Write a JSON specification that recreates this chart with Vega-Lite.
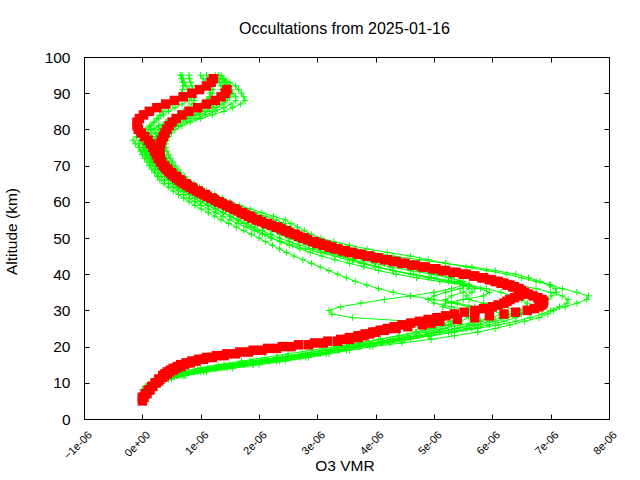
{
"$schema": "https://vega.github.io/schema/vega-lite/v6.json",
"width": 525, "height": 362,
"autosize": {"type": "none"},
"padding": {"left": 84, "top": 57, "right": 31, "bottom": 61},
"background": "white",
"title": {"text": "Occultations from 2025-01-16", "font": "Liberation Sans", "fontSize": 16, "fontWeight": "normal", "color": "black", "anchor": "middle", "baseline": "alphabetic", "offset": 0, "dx": -2},
"config": {
  "view": {"stroke": "black", "strokeWidth": 1},
  "axis": {"grid": false, "domain": false, "labelFont": "Liberation Sans", "labelColor": "black", "tickColor": "black", "tickWidth": 1, "titleFont": "Liberation Sans", "titleColor": "black", "titleFontWeight": "normal", "titleFontSize": 15.5, "labelOverlap": false, "labelBound": false, "labelFlush": false}
},
"datasets": {
"green": [
{"s":"G1","a":9,"v":0.1e-6},{"s":"G1","a":10,"v":0.2e-6},{"s":"G1","a":11,"v":0.35e-6},{"s":"G1","a":12,"v":0.6e-6},{"s":"G1","a":13,"v":0.95e-6},{"s":"G1","a":14,"v":1.4e-6},{"s":"G1","a":15,"v":1.9e-6},{"s":"G1","a":16,"v":2.35e-6},{"s":"G1","a":17,"v":2.8e-6},{"s":"G1","a":18,"v":3.15e-6},{"s":"G1","a":19,"v":3.5e-6},{"s":"G1","a":20,"v":3.95e-6},{"s":"G1","a":21,"v":4.45e-6},{"s":"G1","a":22,"v":4.95e-6},{"s":"G1","a":23,"v":5.35e-6},{"s":"G1","a":24,"v":5.75e-6},{"s":"G1","a":25,"v":6.05e-6},{"s":"G1","a":26,"v":6.3e-6},{"s":"G1","a":27,"v":6.55e-6},{"s":"G1","a":28,"v":6.8e-6},{"s":"G1","a":29,"v":6.95e-6},{"s":"G1","a":30,"v":7.05e-6},{"s":"G1","a":31,"v":7.25e-6},{"s":"G1","a":32,"v":7.45e-6},{"s":"G1","a":33,"v":7.62e-6},{"s":"G1","a":34,"v":7.65e-6},{"s":"G1","a":35,"v":7.45e-6},{"s":"G1","a":36,"v":7.2e-6},{"s":"G1","a":37,"v":7.0e-6},{"s":"G1","a":38,"v":6.75e-6},{"s":"G1","a":39,"v":6.5e-6},{"s":"G1","a":40,"v":6.25e-6},{"s":"G1","a":41,"v":5.9e-6},{"s":"G1","a":42,"v":5.55e-6},{"s":"G1","a":43,"v":5.2e-6},{"s":"G1","a":44,"v":4.9e-6},{"s":"G1","a":45,"v":4.6e-6},{"s":"G1","a":46,"v":4.2e-6},{"s":"G1","a":47,"v":3.85e-6},{"s":"G1","a":48,"v":3.55e-6},{"s":"G1","a":49,"v":3.28e-6},{"s":"G1","a":50,"v":3.05e-6},{"s":"G1","a":51,"v":2.9e-6},{"s":"G1","a":52,"v":2.78e-6},{"s":"G1","a":53,"v":2.66e-6},{"s":"G1","a":54,"v":2.55e-6},{"s":"G1","a":55,"v":2.45e-6},{"s":"G1","a":56,"v":2.25e-6},{"s":"G1","a":57,"v":2.05e-6},{"s":"G1","a":58,"v":1.85e-6},{"s":"G1","a":59,"v":1.67e-6},{"s":"G1","a":60,"v":1.5e-6},{"s":"G1","a":61,"v":1.37e-6},{"s":"G1","a":62,"v":1.24e-6},{"s":"G1","a":63,"v":1.1e-6},{"s":"G1","a":64,"v":0.98e-6},{"s":"G1","a":65,"v":0.88e-6},{"s":"G1","a":66,"v":0.78e-6},{"s":"G1","a":67,"v":0.72e-6},{"s":"G1","a":68,"v":0.66e-6},{"s":"G1","a":69,"v":0.61e-6},{"s":"G1","a":70,"v":0.56e-6},{"s":"G1","a":71,"v":0.52e-6},{"s":"G1","a":72,"v":0.48e-6},{"s":"G1","a":73,"v":0.45e-6},{"s":"G1","a":74,"v":0.42e-6},{"s":"G1","a":75,"v":0.4e-6},{"s":"G1","a":76,"v":0.4e-6},{"s":"G1","a":77,"v":0.42e-6},{"s":"G1","a":78,"v":0.45e-6},{"s":"G1","a":79,"v":0.5e-6},{"s":"G1","a":80,"v":0.56e-6},{"s":"G1","a":81,"v":0.68e-6},{"s":"G1","a":82,"v":0.82e-6},{"s":"G1","a":83,"v":1.0e-6},{"s":"G1","a":84,"v":1.2e-6},{"s":"G1","a":85,"v":1.4e-6},{"s":"G1","a":86,"v":1.55e-6},{"s":"G1","a":87,"v":1.68e-6},{"s":"G1","a":88,"v":1.76e-6},{"s":"G1","a":89,"v":1.74e-6},{"s":"G1","a":90,"v":1.7e-6},{"s":"G1","a":91,"v":1.65e-6},{"s":"G1","a":92,"v":1.6e-6},{"s":"G1","a":93,"v":1.5e-6},{"s":"G1","a":94,"v":1.4e-6},{"s":"G1","a":95,"v":1.3e-6},
{"s":"G2","a":8,"v":0.05e-6},{"s":"G2","a":9,"v":0.12e-6},{"s":"G2","a":10,"v":0.25e-6},{"s":"G2","a":11,"v":0.45e-6},{"s":"G2","a":12,"v":0.72e-6},{"s":"G2","a":13,"v":1.1e-6},{"s":"G2","a":14,"v":1.55e-6},{"s":"G2","a":15,"v":2.0e-6},{"s":"G2","a":16,"v":2.45e-6},{"s":"G2","a":17,"v":2.85e-6},{"s":"G2","a":18,"v":3.2e-6},{"s":"G2","a":19,"v":3.55e-6},{"s":"G2","a":20,"v":3.9e-6},{"s":"G2","a":21,"v":4.25e-6},{"s":"G2","a":22,"v":4.6e-6},{"s":"G2","a":23,"v":4.95e-6},{"s":"G2","a":24,"v":5.25e-6},{"s":"G2","a":25,"v":5.55e-6},{"s":"G2","a":26,"v":5.8e-6},{"s":"G2","a":27,"v":6.05e-6},{"s":"G2","a":28,"v":6.25e-6},{"s":"G2","a":29,"v":6.45e-6},{"s":"G2","a":30,"v":6.6e-6},{"s":"G2","a":31,"v":6.75e-6},{"s":"G2","a":32,"v":6.85e-6},{"s":"G2","a":33,"v":6.95e-6},{"s":"G2","a":34,"v":7.02e-6},{"s":"G2","a":35,"v":7.1e-6},{"s":"G2","a":36,"v":7.08e-6},{"s":"G2","a":37,"v":6.98e-6},{"s":"G2","a":38,"v":6.82e-6},{"s":"G2","a":39,"v":6.62e-6},{"s":"G2","a":40,"v":6.4e-6},{"s":"G2","a":41,"v":6.05e-6},{"s":"G2","a":42,"v":5.65e-6},{"s":"G2","a":43,"v":5.2e-6},{"s":"G2","a":44,"v":4.75e-6},{"s":"G2","a":45,"v":4.3e-6},{"s":"G2","a":46,"v":3.95e-6},{"s":"G2","a":47,"v":3.65e-6},{"s":"G2","a":48,"v":3.38e-6},{"s":"G2","a":49,"v":3.12e-6},{"s":"G2","a":50,"v":2.9e-6},{"s":"G2","a":51,"v":2.78e-6},{"s":"G2","a":52,"v":2.66e-6},{"s":"G2","a":53,"v":2.53e-6},{"s":"G2","a":54,"v":2.42e-6},{"s":"G2","a":55,"v":2.3e-6},{"s":"G2","a":56,"v":2.12e-6},{"s":"G2","a":57,"v":1.93e-6},{"s":"G2","a":58,"v":1.74e-6},{"s":"G2","a":59,"v":1.56e-6},{"s":"G2","a":60,"v":1.4e-6},{"s":"G2","a":61,"v":1.28e-6},{"s":"G2","a":62,"v":1.15e-6},{"s":"G2","a":63,"v":1.03e-6},{"s":"G2","a":64,"v":0.92e-6},{"s":"G2","a":65,"v":0.82e-6},{"s":"G2","a":66,"v":0.72e-6},{"s":"G2","a":67,"v":0.66e-6},{"s":"G2","a":68,"v":0.6e-6},{"s":"G2","a":69,"v":0.55e-6},{"s":"G2","a":70,"v":0.5e-6},{"s":"G2","a":71,"v":0.46e-6},{"s":"G2","a":72,"v":0.42e-6},{"s":"G2","a":73,"v":0.38e-6},{"s":"G2","a":74,"v":0.35e-6},{"s":"G2","a":75,"v":0.32e-6},{"s":"G2","a":76,"v":0.32e-6},{"s":"G2","a":77,"v":0.34e-6},{"s":"G2","a":78,"v":0.38e-6},{"s":"G2","a":79,"v":0.44e-6},{"s":"G2","a":80,"v":0.5e-6},{"s":"G2","a":81,"v":0.62e-6},{"s":"G2","a":82,"v":0.76e-6},{"s":"G2","a":83,"v":0.92e-6},{"s":"G2","a":84,"v":1.08e-6},{"s":"G2","a":85,"v":1.25e-6},{"s":"G2","a":86,"v":1.4e-6},{"s":"G2","a":87,"v":1.52e-6},{"s":"G2","a":88,"v":1.6e-6},{"s":"G2","a":89,"v":1.6e-6},{"s":"G2","a":90,"v":1.55e-6},{"s":"G2","a":91,"v":1.5e-6},{"s":"G2","a":92,"v":1.45e-6},{"s":"G2","a":93,"v":1.42e-6},{"s":"G2","a":94,"v":1.38e-6},{"s":"G2","a":95,"v":1.35e-6},
{"s":"G3","a":9,"v":0.08e-6},{"s":"G3","a":10,"v":0.18e-6},{"s":"G3","a":11,"v":0.32e-6},{"s":"G3","a":12,"v":0.52e-6},{"s":"G3","a":13,"v":0.8e-6},{"s":"G3","a":14,"v":1.15e-6},{"s":"G3","a":15,"v":1.55e-6},{"s":"G3","a":16,"v":1.95e-6},{"s":"G3","a":17,"v":2.4e-6},{"s":"G3","a":18,"v":2.8e-6},{"s":"G3","a":19,"v":3.15e-6},{"s":"G3","a":20,"v":3.55e-6},{"s":"G3","a":21,"v":3.95e-6},{"s":"G3","a":22,"v":4.35e-6},{"s":"G3","a":23,"v":4.75e-6},{"s":"G3","a":24,"v":5.1e-6},{"s":"G3","a":25,"v":5.4e-6},{"s":"G3","a":26,"v":5.7e-6},{"s":"G3","a":27,"v":5.95e-6},{"s":"G3","a":28,"v":6.15e-6},{"s":"G3","a":29,"v":6.3e-6},{"s":"G3","a":30,"v":6.45e-6},{"s":"G3","a":31,"v":6.58e-6},{"s":"G3","a":32,"v":6.6e-6},{"s":"G3","a":33,"v":6.5e-6},{"s":"G3","a":34,"v":6.35e-6},{"s":"G3","a":35,"v":6.15e-6},{"s":"G3","a":36,"v":5.9e-6},{"s":"G3","a":37,"v":5.6e-6},{"s":"G3","a":38,"v":5.25e-6},{"s":"G3","a":39,"v":4.9e-6},{"s":"G3","a":40,"v":4.6e-6},{"s":"G3","a":41,"v":4.3e-6},{"s":"G3","a":42,"v":4.05e-6},{"s":"G3","a":43,"v":3.8e-6},{"s":"G3","a":44,"v":3.6e-6},{"s":"G3","a":45,"v":3.4e-6},{"s":"G3","a":46,"v":3.15e-6},{"s":"G3","a":47,"v":2.92e-6},{"s":"G3","a":48,"v":2.7e-6},{"s":"G3","a":49,"v":2.52e-6},{"s":"G3","a":50,"v":2.35e-6},{"s":"G3","a":51,"v":2.2e-6},{"s":"G3","a":52,"v":2.06e-6},{"s":"G3","a":53,"v":1.92e-6},{"s":"G3","a":54,"v":1.78e-6},{"s":"G3","a":55,"v":1.65e-6},{"s":"G3","a":56,"v":1.52e-6},{"s":"G3","a":57,"v":1.39e-6},{"s":"G3","a":58,"v":1.26e-6},{"s":"G3","a":59,"v":1.13e-6},{"s":"G3","a":60,"v":1.0e-6},{"s":"G3","a":61,"v":0.9e-6},{"s":"G3","a":62,"v":0.8e-6},{"s":"G3","a":63,"v":0.7e-6},{"s":"G3","a":64,"v":0.6e-6},{"s":"G3","a":65,"v":0.52e-6},{"s":"G3","a":66,"v":0.45e-6},{"s":"G3","a":67,"v":0.39e-6},{"s":"G3","a":68,"v":0.33e-6},{"s":"G3","a":69,"v":0.27e-6},{"s":"G3","a":70,"v":0.22e-6},{"s":"G3","a":71,"v":0.17e-6},{"s":"G3","a":72,"v":0.12e-6},{"s":"G3","a":73,"v":0.06e-6},{"s":"G3","a":74,"v":0.0},{"s":"G3","a":75,"v":-0.06e-6},{"s":"G3","a":76,"v":-0.12e-6},{"s":"G3","a":77,"v":-0.16e-6},{"s":"G3","a":78,"v":-0.1e-6},{"s":"G3","a":79,"v":0.02e-6},{"s":"G3","a":80,"v":0.15e-6},{"s":"G3","a":81,"v":0.28e-6},{"s":"G3","a":82,"v":0.4e-6},{"s":"G3","a":83,"v":0.52e-6},{"s":"G3","a":84,"v":0.62e-6},{"s":"G3","a":85,"v":0.7e-6},{"s":"G3","a":86,"v":0.78e-6},{"s":"G3","a":87,"v":0.85e-6},{"s":"G3","a":88,"v":0.9e-6},{"s":"G3","a":89,"v":0.88e-6},{"s":"G3","a":90,"v":0.84e-6},{"s":"G3","a":91,"v":0.8e-6},{"s":"G3","a":92,"v":0.75e-6},{"s":"G3","a":93,"v":0.72e-6},{"s":"G3","a":94,"v":0.7e-6},{"s":"G3","a":95,"v":0.68e-6},
{"s":"G4","a":8,"v":0.0},{"s":"G4","a":9,"v":0.07e-6},{"s":"G4","a":10,"v":0.16e-6},{"s":"G4","a":11,"v":0.28e-6},{"s":"G4","a":12,"v":0.45e-6},{"s":"G4","a":13,"v":0.68e-6},{"s":"G4","a":14,"v":1.0e-6},{"s":"G4","a":15,"v":1.4e-6},{"s":"G4","a":16,"v":1.85e-6},{"s":"G4","a":17,"v":2.3e-6},{"s":"G4","a":18,"v":2.75e-6},{"s":"G4","a":19,"v":3.15e-6},{"s":"G4","a":20,"v":3.5e-6},{"s":"G4","a":21,"v":3.9e-6},{"s":"G4","a":22,"v":4.3e-6},{"s":"G4","a":23,"v":4.7e-6},{"s":"G4","a":24,"v":5.0e-6},{"s":"G4","a":25,"v":5.2e-6},{"s":"G4","a":26,"v":5.3e-6},{"s":"G4","a":27,"v":4.6e-6},{"s":"G4","a":28,"v":3.6e-6},{"s":"G4","a":29,"v":3.25e-6},{"s":"G4","a":30,"v":3.2e-6},{"s":"G4","a":31,"v":3.4e-6},{"s":"G4","a":32,"v":3.75e-6},{"s":"G4","a":33,"v":4.15e-6},{"s":"G4","a":34,"v":4.6e-6},{"s":"G4","a":35,"v":5.0e-6},{"s":"G4","a":36,"v":5.3e-6},{"s":"G4","a":37,"v":5.5e-6},{"s":"G4","a":38,"v":5.45e-6},{"s":"G4","a":39,"v":5.3e-6},{"s":"G4","a":40,"v":5.05e-6},{"s":"G4","a":41,"v":4.75e-6},{"s":"G4","a":42,"v":4.45e-6},{"s":"G4","a":43,"v":4.15e-6},{"s":"G4","a":44,"v":3.9e-6},{"s":"G4","a":45,"v":3.7e-6},{"s":"G4","a":46,"v":3.5e-6},{"s":"G4","a":47,"v":3.3e-6},{"s":"G4","a":48,"v":3.1e-6},{"s":"G4","a":49,"v":2.92e-6},{"s":"G4","a":50,"v":2.75e-6},{"s":"G4","a":51,"v":2.62e-6},{"s":"G4","a":52,"v":2.49e-6},{"s":"G4","a":53,"v":2.36e-6},{"s":"G4","a":54,"v":2.23e-6},{"s":"G4","a":55,"v":2.1e-6},{"s":"G4","a":56,"v":1.94e-6},{"s":"G4","a":57,"v":1.78e-6},{"s":"G4","a":58,"v":1.6e-6},{"s":"G4","a":59,"v":1.45e-6},{"s":"G4","a":60,"v":1.3e-6},{"s":"G4","a":61,"v":1.18e-6},{"s":"G4","a":62,"v":1.06e-6},{"s":"G4","a":63,"v":0.94e-6},{"s":"G4","a":64,"v":0.84e-6},{"s":"G4","a":65,"v":0.75e-6},{"s":"G4","a":66,"v":0.66e-6},{"s":"G4","a":67,"v":0.6e-6},{"s":"G4","a":68,"v":0.54e-6},{"s":"G4","a":69,"v":0.48e-6},{"s":"G4","a":70,"v":0.42e-6},{"s":"G4","a":71,"v":0.38e-6},{"s":"G4","a":72,"v":0.34e-6},{"s":"G4","a":73,"v":0.3e-6},{"s":"G4","a":74,"v":0.27e-6},{"s":"G4","a":75,"v":0.25e-6},{"s":"G4","a":76,"v":0.25e-6},{"s":"G4","a":77,"v":0.27e-6},{"s":"G4","a":78,"v":0.31e-6},{"s":"G4","a":79,"v":0.36e-6},{"s":"G4","a":80,"v":0.42e-6},{"s":"G4","a":81,"v":0.52e-6},{"s":"G4","a":82,"v":0.65e-6},{"s":"G4","a":83,"v":0.8e-6},{"s":"G4","a":84,"v":0.98e-6},{"s":"G4","a":85,"v":1.15e-6},{"s":"G4","a":86,"v":1.28e-6},{"s":"G4","a":87,"v":1.38e-6},{"s":"G4","a":88,"v":1.45e-6},{"s":"G4","a":89,"v":1.5e-6},{"s":"G4","a":90,"v":1.52e-6},{"s":"G4","a":91,"v":1.52e-6},{"s":"G4","a":92,"v":1.5e-6},{"s":"G4","a":93,"v":1.45e-6},{"s":"G4","a":94,"v":1.38e-6},
{"s":"G5","a":9,"v":0.15e-6},{"s":"G5","a":10,"v":0.3e-6},{"s":"G5","a":11,"v":0.5e-6},{"s":"G5","a":12,"v":0.75e-6},{"s":"G5","a":13,"v":1.05e-6},{"s":"G5","a":14,"v":1.45e-6},{"s":"G5","a":15,"v":1.9e-6},{"s":"G5","a":16,"v":2.3e-6},{"s":"G5","a":17,"v":2.7e-6},{"s":"G5","a":18,"v":3.05e-6},{"s":"G5","a":19,"v":3.35e-6},{"s":"G5","a":20,"v":3.65e-6},{"s":"G5","a":21,"v":3.95e-6},{"s":"G5","a":22,"v":4.25e-6},{"s":"G5","a":23,"v":4.55e-6},{"s":"G5","a":24,"v":4.85e-6},{"s":"G5","a":25,"v":5.15e-6},{"s":"G5","a":26,"v":5.45e-6},{"s":"G5","a":27,"v":5.75e-6},{"s":"G5","a":28,"v":6.0e-6},{"s":"G5","a":29,"v":6.15e-6},{"s":"G5","a":30,"v":6.0e-6},{"s":"G5","a":31,"v":5.6e-6},{"s":"G5","a":32,"v":5.3e-6},{"s":"G5","a":33,"v":5.2e-6},{"s":"G5","a":34,"v":5.3e-6},{"s":"G5","a":35,"v":5.5e-6},{"s":"G5","a":36,"v":5.6e-6},{"s":"G5","a":37,"v":5.5e-6},{"s":"G5","a":38,"v":5.25e-6},{"s":"G5","a":39,"v":4.95e-6},{"s":"G5","a":40,"v":4.6e-6},{"s":"G5","a":41,"v":4.3e-6},{"s":"G5","a":42,"v":4.0e-6},{"s":"G5","a":43,"v":3.75e-6},{"s":"G5","a":44,"v":3.52e-6},{"s":"G5","a":45,"v":3.3e-6},{"s":"G5","a":46,"v":3.05e-6},{"s":"G5","a":47,"v":2.8e-6},{"s":"G5","a":48,"v":2.58e-6},{"s":"G5","a":49,"v":2.38e-6},{"s":"G5","a":50,"v":2.2e-6},{"s":"G5","a":51,"v":2.06e-6},{"s":"G5","a":52,"v":1.92e-6},{"s":"G5","a":53,"v":1.78e-6},{"s":"G5","a":54,"v":1.64e-6},{"s":"G5","a":55,"v":1.5e-6},{"s":"G5","a":56,"v":1.38e-6},{"s":"G5","a":57,"v":1.26e-6},{"s":"G5","a":58,"v":1.13e-6},{"s":"G5","a":59,"v":1.01e-6},{"s":"G5","a":60,"v":0.9e-6},{"s":"G5","a":61,"v":0.8e-6},{"s":"G5","a":62,"v":0.71e-6},{"s":"G5","a":63,"v":0.62e-6},{"s":"G5","a":64,"v":0.53e-6},{"s":"G5","a":65,"v":0.45e-6},{"s":"G5","a":66,"v":0.38e-6},{"s":"G5","a":67,"v":0.33e-6},{"s":"G5","a":68,"v":0.28e-6},{"s":"G5","a":69,"v":0.23e-6},{"s":"G5","a":70,"v":0.18e-6},{"s":"G5","a":71,"v":0.14e-6},{"s":"G5","a":72,"v":0.1e-6},{"s":"G5","a":73,"v":0.07e-6},{"s":"G5","a":74,"v":0.04e-6},{"s":"G5","a":75,"v":0.02e-6},{"s":"G5","a":76,"v":0.0},{"s":"G5","a":77,"v":-0.02e-6},{"s":"G5","a":78,"v":-0.02e-6},{"s":"G5","a":79,"v":0.01e-6},{"s":"G5","a":80,"v":0.05e-6},{"s":"G5","a":81,"v":0.12e-6},{"s":"G5","a":82,"v":0.2e-6},{"s":"G5","a":83,"v":0.28e-6},{"s":"G5","a":84,"v":0.36e-6},{"s":"G5","a":85,"v":0.45e-6},{"s":"G5","a":86,"v":0.56e-6},{"s":"G5","a":87,"v":0.68e-6},{"s":"G5","a":88,"v":0.8e-6},{"s":"G5","a":89,"v":0.84e-6},{"s":"G5","a":90,"v":0.86e-6},{"s":"G5","a":91,"v":0.86e-6},{"s":"G5","a":92,"v":0.85e-6},{"s":"G5","a":93,"v":0.83e-6},{"s":"G5","a":94,"v":0.81e-6},{"s":"G5","a":95,"v":0.8e-6},
{"s":"G6","a":9,"v":0.05e-6},{"s":"G6","a":10,"v":0.15e-6},{"s":"G6","a":11,"v":0.28e-6},{"s":"G6","a":12,"v":0.45e-6},{"s":"G6","a":13,"v":0.68e-6},{"s":"G6","a":14,"v":0.95e-6},{"s":"G6","a":15,"v":1.3e-6},{"s":"G6","a":16,"v":1.7e-6},{"s":"G6","a":17,"v":2.1e-6},{"s":"G6","a":18,"v":2.5e-6},{"s":"G6","a":19,"v":2.9e-6},{"s":"G6","a":20,"v":3.3e-6},{"s":"G6","a":21,"v":3.7e-6},{"s":"G6","a":22,"v":4.05e-6},{"s":"G6","a":23,"v":4.4e-6},{"s":"G6","a":24,"v":4.7e-6},{"s":"G6","a":25,"v":5.0e-6},{"s":"G6","a":26,"v":5.25e-6},{"s":"G6","a":27,"v":5.45e-6},{"s":"G6","a":28,"v":5.6e-6},{"s":"G6","a":29,"v":5.7e-6},{"s":"G6","a":30,"v":5.6e-6},{"s":"G6","a":31,"v":5.3e-6},{"s":"G6","a":32,"v":5.0e-6},{"s":"G6","a":33,"v":4.9e-6},{"s":"G6","a":34,"v":5.0e-6},{"s":"G6","a":35,"v":5.2e-6},{"s":"G6","a":36,"v":5.45e-6},{"s":"G6","a":37,"v":5.6e-6},{"s":"G6","a":38,"v":5.5e-6},{"s":"G6","a":39,"v":5.25e-6},{"s":"G6","a":40,"v":4.95e-6},{"s":"G6","a":41,"v":4.6e-6},{"s":"G6","a":42,"v":4.25e-6},{"s":"G6","a":43,"v":3.98e-6},{"s":"G6","a":44,"v":3.78e-6},{"s":"G6","a":45,"v":3.6e-6},{"s":"G6","a":46,"v":3.38e-6},{"s":"G6","a":47,"v":3.17e-6},{"s":"G6","a":48,"v":2.97e-6},{"s":"G6","a":49,"v":2.78e-6},{"s":"G6","a":50,"v":2.6e-6},{"s":"G6","a":51,"v":2.47e-6},{"s":"G6","a":52,"v":2.34e-6},{"s":"G6","a":53,"v":2.21e-6},{"s":"G6","a":54,"v":2.08e-6},{"s":"G6","a":55,"v":1.95e-6},{"s":"G6","a":56,"v":1.8e-6},{"s":"G6","a":57,"v":1.65e-6},{"s":"G6","a":58,"v":1.5e-6},{"s":"G6","a":59,"v":1.35e-6},{"s":"G6","a":60,"v":1.2e-6},{"s":"G6","a":61,"v":1.09e-6},{"s":"G6","a":62,"v":0.98e-6},{"s":"G6","a":63,"v":0.87e-6},{"s":"G6","a":64,"v":0.77e-6},{"s":"G6","a":65,"v":0.68e-6},{"s":"G6","a":66,"v":0.6e-6},{"s":"G6","a":67,"v":0.54e-6},{"s":"G6","a":68,"v":0.47e-6},{"s":"G6","a":69,"v":0.41e-6},{"s":"G6","a":70,"v":0.36e-6},{"s":"G6","a":71,"v":0.32e-6},{"s":"G6","a":72,"v":0.28e-6},{"s":"G6","a":73,"v":0.24e-6},{"s":"G6","a":74,"v":0.21e-6},{"s":"G6","a":75,"v":0.18e-6},{"s":"G6","a":76,"v":0.18e-6},{"s":"G6","a":77,"v":0.2e-6},{"s":"G6","a":78,"v":0.24e-6},{"s":"G6","a":79,"v":0.29e-6},{"s":"G6","a":80,"v":0.35e-6},{"s":"G6","a":81,"v":0.45e-6},{"s":"G6","a":82,"v":0.57e-6},{"s":"G6","a":83,"v":0.7e-6},{"s":"G6","a":84,"v":0.85e-6},{"s":"G6","a":85,"v":1.0e-6},{"s":"G6","a":86,"v":1.12e-6},{"s":"G6","a":87,"v":1.22e-6},{"s":"G6","a":88,"v":1.3e-6},{"s":"G6","a":89,"v":1.34e-6},{"s":"G6","a":90,"v":1.36e-6},{"s":"G6","a":91,"v":1.36e-6},{"s":"G6","a":92,"v":1.35e-6},{"s":"G6","a":93,"v":1.32e-6},{"s":"G6","a":94,"v":1.28e-6},{"s":"G6","a":95,"v":1.25e-6},
{"s":"G7","a":9,"v":0.1e-6},{"s":"G7","a":10,"v":0.22e-6},{"s":"G7","a":11,"v":0.4e-6},{"s":"G7","a":12,"v":0.62e-6},{"s":"G7","a":13,"v":0.9e-6},{"s":"G7","a":14,"v":1.25e-6},{"s":"G7","a":15,"v":1.65e-6},{"s":"G7","a":16,"v":2.05e-6},{"s":"G7","a":17,"v":2.5e-6},{"s":"G7","a":18,"v":2.9e-6},{"s":"G7","a":19,"v":3.3e-6},{"s":"G7","a":20,"v":3.7e-6},{"s":"G7","a":21,"v":4.1e-6},{"s":"G7","a":22,"v":4.5e-6},{"s":"G7","a":23,"v":4.9e-6},{"s":"G7","a":24,"v":5.3e-6},{"s":"G7","a":25,"v":5.65e-6},{"s":"G7","a":26,"v":5.95e-6},{"s":"G7","a":27,"v":6.2e-6},{"s":"G7","a":28,"v":6.4e-6},{"s":"G7","a":29,"v":6.5e-6},{"s":"G7","a":30,"v":6.45e-6},{"s":"G7","a":31,"v":6.2e-6},{"s":"G7","a":32,"v":5.85e-6},{"s":"G7","a":33,"v":5.6e-6},{"s":"G7","a":34,"v":5.55e-6},{"s":"G7","a":35,"v":5.65e-6},{"s":"G7","a":36,"v":5.7e-6},{"s":"G7","a":37,"v":5.6e-6},{"s":"G7","a":38,"v":5.35e-6},{"s":"G7","a":39,"v":5.0e-6},{"s":"G7","a":40,"v":4.65e-6},{"s":"G7","a":41,"v":4.3e-6},{"s":"G7","a":42,"v":4.0e-6},{"s":"G7","a":43,"v":3.8e-6},{"s":"G7","a":44,"v":3.62e-6},{"s":"G7","a":45,"v":3.45e-6},{"s":"G7","a":46,"v":3.25e-6},{"s":"G7","a":47,"v":3.05e-6},{"s":"G7","a":48,"v":2.85e-6},{"s":"G7","a":49,"v":2.67e-6},{"s":"G7","a":50,"v":2.5e-6},{"s":"G7","a":51,"v":2.36e-6},{"s":"G7","a":52,"v":2.22e-6},{"s":"G7","a":53,"v":2.08e-6},{"s":"G7","a":54,"v":1.94e-6},{"s":"G7","a":55,"v":1.8e-6},{"s":"G7","a":56,"v":1.66e-6},{"s":"G7","a":57,"v":1.52e-6},{"s":"G7","a":58,"v":1.38e-6},{"s":"G7","a":59,"v":1.24e-6},{"s":"G7","a":60,"v":1.1e-6},{"s":"G7","a":61,"v":1.0e-6},{"s":"G7","a":62,"v":0.9e-6},{"s":"G7","a":63,"v":0.8e-6},{"s":"G7","a":64,"v":0.69e-6},{"s":"G7","a":65,"v":0.6e-6},{"s":"G7","a":66,"v":0.52e-6},{"s":"G7","a":67,"v":0.47e-6},{"s":"G7","a":68,"v":0.41e-6},{"s":"G7","a":69,"v":0.35e-6},{"s":"G7","a":70,"v":0.3e-6},{"s":"G7","a":71,"v":0.26e-6},{"s":"G7","a":72,"v":0.22e-6},{"s":"G7","a":73,"v":0.17e-6},{"s":"G7","a":74,"v":0.13e-6},{"s":"G7","a":75,"v":0.1e-6},{"s":"G7","a":76,"v":0.1e-6},{"s":"G7","a":77,"v":0.12e-6},{"s":"G7","a":78,"v":0.16e-6},{"s":"G7","a":79,"v":0.22e-6},{"s":"G7","a":80,"v":0.28e-6},{"s":"G7","a":81,"v":0.38e-6},{"s":"G7","a":82,"v":0.48e-6},{"s":"G7","a":83,"v":0.58e-6},{"s":"G7","a":84,"v":0.69e-6},{"s":"G7","a":85,"v":0.8e-6},{"s":"G7","a":86,"v":0.92e-6},{"s":"G7","a":87,"v":1.02e-6},{"s":"G7","a":88,"v":1.1e-6},{"s":"G7","a":89,"v":1.16e-6},{"s":"G7","a":90,"v":1.2e-6},{"s":"G7","a":91,"v":1.21e-6},{"s":"G7","a":92,"v":1.2e-6},{"s":"G7","a":93,"v":1.17e-6},{"s":"G7","a":94,"v":1.14e-6},{"s":"G7","a":95,"v":1.1e-6},
{"s":"G8","a":9,"v":0.12e-6},{"s":"G8","a":10,"v":0.26e-6},{"s":"G8","a":11,"v":0.45e-6},{"s":"G8","a":12,"v":0.7e-6},{"s":"G8","a":13,"v":1.0e-6},{"s":"G8","a":14,"v":1.35e-6},{"s":"G8","a":15,"v":1.75e-6},{"s":"G8","a":16,"v":2.15e-6},{"s":"G8","a":17,"v":2.55e-6},{"s":"G8","a":18,"v":2.95e-6},{"s":"G8","a":19,"v":3.35e-6},{"s":"G8","a":20,"v":3.75e-6},{"s":"G8","a":21,"v":4.1e-6},{"s":"G8","a":22,"v":4.45e-6},{"s":"G8","a":23,"v":4.75e-6},{"s":"G8","a":24,"v":5.05e-6},{"s":"G8","a":25,"v":5.35e-6},{"s":"G8","a":26,"v":5.6e-6},{"s":"G8","a":27,"v":5.8e-6},{"s":"G8","a":28,"v":5.92e-6},{"s":"G8","a":29,"v":5.95e-6},{"s":"G8","a":30,"v":5.9e-6},{"s":"G8","a":31,"v":5.7e-6},{"s":"G8","a":32,"v":5.4e-6},{"s":"G8","a":33,"v":5.0e-6},{"s":"G8","a":34,"v":4.6e-6},{"s":"G8","a":35,"v":4.3e-6},{"s":"G8","a":36,"v":4.05e-6},{"s":"G8","a":37,"v":3.85e-6},{"s":"G8","a":38,"v":3.65e-6},{"s":"G8","a":39,"v":3.5e-6},{"s":"G8","a":40,"v":3.35e-6},{"s":"G8","a":41,"v":3.2e-6},{"s":"G8","a":42,"v":3.05e-6},{"s":"G8","a":43,"v":2.9e-6},{"s":"G8","a":44,"v":2.75e-6},{"s":"G8","a":45,"v":2.6e-6},{"s":"G8","a":46,"v":2.47e-6},{"s":"G8","a":47,"v":2.35e-6},{"s":"G8","a":48,"v":2.23e-6},{"s":"G8","a":49,"v":2.11e-6},{"s":"G8","a":50,"v":2.0e-6},{"s":"G8","a":51,"v":1.87e-6},{"s":"G8","a":52,"v":1.74e-6},{"s":"G8","a":53,"v":1.61e-6},{"s":"G8","a":54,"v":1.48e-6},{"s":"G8","a":55,"v":1.35e-6},{"s":"G8","a":56,"v":1.24e-6},{"s":"G8","a":57,"v":1.13e-6},{"s":"G8","a":58,"v":1.01e-6},{"s":"G8","a":59,"v":0.9e-6},{"s":"G8","a":60,"v":0.8e-6},{"s":"G8","a":61,"v":0.71e-6},{"s":"G8","a":62,"v":0.62e-6},{"s":"G8","a":63,"v":0.53e-6},{"s":"G8","a":64,"v":0.45e-6},{"s":"G8","a":65,"v":0.37e-6},{"s":"G8","a":66,"v":0.3e-6},{"s":"G8","a":67,"v":0.26e-6},{"s":"G8","a":68,"v":0.21e-6},{"s":"G8","a":69,"v":0.16e-6},{"s":"G8","a":70,"v":0.12e-6},{"s":"G8","a":71,"v":0.08e-6},{"s":"G8","a":72,"v":0.04e-6},{"s":"G8","a":73,"v":0.0},{"s":"G8","a":74,"v":-0.03e-6},{"s":"G8","a":75,"v":-0.05e-6},{"s":"G8","a":76,"v":-0.06e-6},{"s":"G8","a":77,"v":-0.04e-6},{"s":"G8","a":78,"v":0.0},{"s":"G8","a":79,"v":0.05e-6},{"s":"G8","a":80,"v":0.1e-6},{"s":"G8","a":81,"v":0.15e-6},{"s":"G8","a":82,"v":0.2e-6},{"s":"G8","a":83,"v":0.25e-6},{"s":"G8","a":84,"v":0.3e-6},{"s":"G8","a":85,"v":0.35e-6},{"s":"G8","a":86,"v":0.44e-6},{"s":"G8","a":87,"v":0.52e-6},{"s":"G8","a":88,"v":0.6e-6},{"s":"G8","a":89,"v":0.64e-6},{"s":"G8","a":90,"v":0.67e-6},{"s":"G8","a":91,"v":0.69e-6},{"s":"G8","a":92,"v":0.7e-6},{"s":"G8","a":93,"v":0.69e-6},{"s":"G8","a":94,"v":0.67e-6},{"s":"G8","a":95,"v":0.65e-6},
{"s":"G9","a":9,"v":0.1e-6},{"s":"G9","a":10,"v":0.2e-6},{"s":"G9","a":11,"v":0.36e-6},{"s":"G9","a":12,"v":0.58e-6},{"s":"G9","a":13,"v":0.88e-6},{"s":"G9","a":14,"v":1.28e-6},{"s":"G9","a":15,"v":1.72e-6},{"s":"G9","a":16,"v":2.18e-6},{"s":"G9","a":17,"v":2.62e-6},{"s":"G9","a":18,"v":3.02e-6},{"s":"G9","a":19,"v":3.38e-6},{"s":"G9","a":20,"v":3.72e-6},{"s":"G9","a":21,"v":4.1e-6},{"s":"G9","a":22,"v":4.5e-6},{"s":"G9","a":23,"v":4.92e-6},{"s":"G9","a":24,"v":5.35e-6},{"s":"G9","a":25,"v":5.75e-6},{"s":"G9","a":26,"v":6.1e-6},{"s":"G9","a":27,"v":6.4e-6},{"s":"G9","a":28,"v":6.65e-6},{"s":"G9","a":29,"v":6.85e-6},{"s":"G9","a":30,"v":7.0e-6},{"s":"G9","a":31,"v":7.15e-6},{"s":"G9","a":32,"v":7.28e-6},{"s":"G9","a":33,"v":7.3e-6},{"s":"G9","a":34,"v":7.2e-6},{"s":"G9","a":35,"v":7.0e-6},{"s":"G9","a":36,"v":6.75e-6},{"s":"G9","a":37,"v":6.45e-6},{"s":"G9","a":38,"v":6.15e-6},{"s":"G9","a":39,"v":5.85e-6},{"s":"G9","a":40,"v":5.55e-6},{"s":"G9","a":41,"v":5.25e-6},{"s":"G9","a":42,"v":4.95e-6},{"s":"G9","a":43,"v":4.65e-6},{"s":"G9","a":44,"v":4.35e-6},{"s":"G9","a":45,"v":4.05e-6},{"s":"G9","a":46,"v":3.75e-6},{"s":"G9","a":47,"v":3.48e-6},{"s":"G9","a":48,"v":3.22e-6},{"s":"G9","a":49,"v":3.0e-6},{"s":"G9","a":50,"v":2.82e-6},{"s":"G9","a":51,"v":2.66e-6},{"s":"G9","a":52,"v":2.51e-6},{"s":"G9","a":53,"v":2.37e-6},{"s":"G9","a":54,"v":2.24e-6},{"s":"G9","a":55,"v":2.12e-6},{"s":"G9","a":56,"v":1.98e-6},{"s":"G9","a":57,"v":1.84e-6},{"s":"G9","a":58,"v":1.69e-6},{"s":"G9","a":59,"v":1.55e-6},{"s":"G9","a":60,"v":1.42e-6},{"s":"G9","a":61,"v":1.3e-6},{"s":"G9","a":62,"v":1.18e-6},{"s":"G9","a":63,"v":1.06e-6},{"s":"G9","a":64,"v":0.95e-6},{"s":"G9","a":65,"v":0.85e-6},{"s":"G9","a":66,"v":0.75e-6},{"s":"G9","a":67,"v":0.67e-6},{"s":"G9","a":68,"v":0.59e-6},{"s":"G9","a":69,"v":0.52e-6},{"s":"G9","a":70,"v":0.46e-6},{"s":"G9","a":71,"v":0.41e-6},{"s":"G9","a":72,"v":0.36e-6},{"s":"G9","a":73,"v":0.32e-6},{"s":"G9","a":74,"v":0.28e-6},{"s":"G9","a":75,"v":0.25e-6},{"s":"G9","a":76,"v":0.23e-6},{"s":"G9","a":77,"v":0.23e-6},{"s":"G9","a":78,"v":0.26e-6},{"s":"G9","a":79,"v":0.31e-6},{"s":"G9","a":80,"v":0.38e-6},{"s":"G9","a":81,"v":0.48e-6},{"s":"G9","a":82,"v":0.6e-6},{"s":"G9","a":83,"v":0.74e-6},{"s":"G9","a":84,"v":0.9e-6},{"s":"G9","a":85,"v":1.06e-6},{"s":"G9","a":86,"v":1.2e-6},{"s":"G9","a":87,"v":1.32e-6},{"s":"G9","a":88,"v":1.42e-6},{"s":"G9","a":89,"v":1.46e-6},{"s":"G9","a":90,"v":1.47e-6},{"s":"G9","a":91,"v":1.46e-6},{"s":"G9","a":92,"v":1.43e-6},{"s":"G9","a":93,"v":1.38e-6},{"s":"G9","a":94,"v":1.33e-6},
{"s":"G10","a":8,"v":0.03e-6},{"s":"G10","a":9,"v":0.1e-6},{"s":"G10","a":10,"v":0.2e-6},{"s":"G10","a":11,"v":0.34e-6},{"s":"G10","a":12,"v":0.54e-6},{"s":"G10","a":13,"v":0.8e-6},{"s":"G10","a":14,"v":1.12e-6},{"s":"G10","a":15,"v":1.5e-6},{"s":"G10","a":16,"v":1.9e-6},{"s":"G10","a":17,"v":2.32e-6},{"s":"G10","a":18,"v":2.72e-6},{"s":"G10","a":19,"v":3.08e-6},{"s":"G10","a":20,"v":3.42e-6},{"s":"G10","a":21,"v":3.75e-6},{"s":"G10","a":22,"v":4.08e-6},{"s":"G10","a":23,"v":4.4e-6},{"s":"G10","a":24,"v":4.68e-6},{"s":"G10","a":25,"v":4.92e-6},{"s":"G10","a":26,"v":5.12e-6},{"s":"G10","a":27,"v":5.28e-6},{"s":"G10","a":28,"v":5.4e-6},{"s":"G10","a":29,"v":5.45e-6},{"s":"G10","a":30,"v":5.35e-6},{"s":"G10","a":31,"v":5.15e-6},{"s":"G10","a":32,"v":5.2e-6},{"s":"G10","a":33,"v":5.5e-6},{"s":"G10","a":34,"v":5.85e-6},{"s":"G10","a":35,"v":5.95e-6},{"s":"G10","a":36,"v":5.8e-6},{"s":"G10","a":37,"v":5.5e-6},{"s":"G10","a":38,"v":5.1e-6},{"s":"G10","a":39,"v":4.7e-6},{"s":"G10","a":40,"v":4.35e-6},{"s":"G10","a":41,"v":4.05e-6},{"s":"G10","a":42,"v":3.8e-6},{"s":"G10","a":43,"v":3.55e-6},{"s":"G10","a":44,"v":3.3e-6},{"s":"G10","a":45,"v":3.08e-6},{"s":"G10","a":46,"v":2.88e-6},{"s":"G10","a":47,"v":2.7e-6},{"s":"G10","a":48,"v":2.52e-6},{"s":"G10","a":49,"v":2.36e-6},{"s":"G10","a":50,"v":2.22e-6},{"s":"G10","a":51,"v":2.1e-6},{"s":"G10","a":52,"v":1.98e-6},{"s":"G10","a":53,"v":1.86e-6},{"s":"G10","a":54,"v":1.74e-6},{"s":"G10","a":55,"v":1.62e-6},{"s":"G10","a":56,"v":1.5e-6},{"s":"G10","a":57,"v":1.38e-6},{"s":"G10","a":58,"v":1.25e-6},{"s":"G10","a":59,"v":1.12e-6},{"s":"G10","a":60,"v":1.0e-6},{"s":"G10","a":61,"v":0.9e-6},{"s":"G10","a":62,"v":0.81e-6},{"s":"G10","a":63,"v":0.72e-6},{"s":"G10","a":64,"v":0.64e-6},{"s":"G10","a":65,"v":0.56e-6},{"s":"G10","a":66,"v":0.49e-6},{"s":"G10","a":67,"v":0.43e-6},{"s":"G10","a":68,"v":0.37e-6},{"s":"G10","a":69,"v":0.31e-6},{"s":"G10","a":70,"v":0.26e-6},{"s":"G10","a":71,"v":0.21e-6},{"s":"G10","a":72,"v":0.16e-6},{"s":"G10","a":73,"v":0.12e-6},{"s":"G10","a":74,"v":0.08e-6},{"s":"G10","a":75,"v":0.05e-6},{"s":"G10","a":76,"v":0.04e-6},{"s":"G10","a":77,"v":0.05e-6},{"s":"G10","a":78,"v":0.08e-6},{"s":"G10","a":79,"v":0.14e-6},{"s":"G10","a":80,"v":0.2e-6},{"s":"G10","a":81,"v":0.3e-6},{"s":"G10","a":82,"v":0.42e-6},{"s":"G10","a":83,"v":0.55e-6},{"s":"G10","a":84,"v":0.68e-6},{"s":"G10","a":85,"v":0.82e-6},{"s":"G10","a":86,"v":0.95e-6},{"s":"G10","a":87,"v":1.05e-6},{"s":"G10","a":88,"v":1.12e-6},{"s":"G10","a":89,"v":1.15e-6},{"s":"G10","a":90,"v":1.16e-6},{"s":"G10","a":91,"v":1.15e-6},{"s":"G10","a":92,"v":1.12e-6},{"s":"G10","a":93,"v":1.08e-6},{"s":"G10","a":94,"v":1.04e-6},{"s":"G10","a":95,"v":1.0e-6}
],
"red": [
{"s":"A","a":5,"v":0.0},{"s":"A","a":6,"v":0.03e-6},{"s":"A","a":7,"v":0.08e-6},{"s":"A","a":8,"v":0.13e-6},{"s":"A","a":9,"v":0.18e-6},{"s":"A","a":10,"v":0.24e-6},{"s":"A","a":11,"v":0.3e-6},{"s":"A","a":12,"v":0.38e-6},{"s":"A","a":13,"v":0.47e-6},{"s":"A","a":14,"v":0.58e-6},{"s":"A","a":15,"v":0.72e-6},{"s":"A","a":16,"v":0.92e-6},{"s":"A","a":17,"v":1.2e-6},{"s":"A","a":18,"v":1.6e-6},{"s":"A","a":19,"v":2.05e-6},{"s":"A","a":20,"v":2.55e-6},{"s":"A","a":21,"v":3.1e-6},{"s":"A","a":22,"v":3.55e-6},{"s":"A","a":23,"v":3.8e-6},{"s":"A","a":24,"v":4.0e-6},{"s":"A","a":25,"v":4.35e-6},{"s":"A","a":26,"v":4.8e-6},{"s":"A","a":27,"v":5.1e-6},{"s":"A","a":28,"v":5.7e-6},{"s":"A","a":29,"v":6.2e-6},{"s":"A","a":30,"v":6.6e-6},{"s":"A","a":31,"v":6.8e-6},{"s":"A","a":32,"v":6.87e-6},{"s":"A","a":33,"v":6.85e-6},{"s":"A","a":34,"v":6.7e-6},{"s":"A","a":35,"v":6.55e-6},{"s":"A","a":36,"v":6.45e-6},{"s":"A","a":37,"v":6.25e-6},{"s":"A","a":38,"v":6.05e-6},{"s":"A","a":39,"v":5.82e-6},{"s":"A","a":40,"v":5.5e-6},{"s":"A","a":41,"v":5.15e-6},{"s":"A","a":42,"v":4.8e-6},{"s":"A","a":43,"v":4.45e-6},{"s":"A","a":44,"v":4.15e-6},{"s":"A","a":45,"v":3.85e-6},{"s":"A","a":46,"v":3.55e-6},{"s":"A","a":47,"v":3.3e-6},{"s":"A","a":48,"v":3.1e-6},{"s":"A","a":49,"v":2.92e-6},{"s":"A","a":50,"v":2.75e-6},{"s":"A","a":51,"v":2.6e-6},{"s":"A","a":52,"v":2.45e-6},{"s":"A","a":53,"v":2.3e-6},{"s":"A","a":54,"v":2.12e-6},{"s":"A","a":55,"v":1.95e-6},{"s":"A","a":56,"v":1.82e-6},{"s":"A","a":57,"v":1.7e-6},{"s":"A","a":58,"v":1.57e-6},{"s":"A","a":59,"v":1.44e-6},{"s":"A","a":60,"v":1.3e-6},{"s":"A","a":61,"v":1.18e-6},{"s":"A","a":62,"v":1.05e-6},{"s":"A","a":63,"v":0.93e-6},{"s":"A","a":64,"v":0.82e-6},{"s":"A","a":65,"v":0.72e-6},{"s":"A","a":66,"v":0.63e-6},{"s":"A","a":67,"v":0.55e-6},{"s":"A","a":68,"v":0.48e-6},{"s":"A","a":69,"v":0.42e-6},{"s":"A","a":70,"v":0.36e-6},{"s":"A","a":71,"v":0.31e-6},{"s":"A","a":72,"v":0.27e-6},{"s":"A","a":73,"v":0.24e-6},{"s":"A","a":74,"v":0.21e-6},{"s":"A","a":75,"v":0.18e-6},{"s":"A","a":76,"v":0.14e-6},{"s":"A","a":77,"v":0.1e-6},{"s":"A","a":78,"v":0.04e-6},{"s":"A","a":79,"v":-0.02e-6},{"s":"A","a":80,"v":-0.07e-6},{"s":"A","a":81,"v":-0.09e-6},{"s":"A","a":82,"v":-0.09e-6},{"s":"A","a":83,"v":-0.05e-6},{"s":"A","a":84,"v":0.02e-6},{"s":"A","a":85,"v":0.12e-6},{"s":"A","a":86,"v":0.25e-6},{"s":"A","a":87,"v":0.4e-6},{"s":"A","a":88,"v":0.55e-6},{"s":"A","a":89,"v":0.7e-6},{"s":"A","a":90,"v":0.85e-6},{"s":"A","a":91,"v":0.98e-6},{"s":"A","a":92,"v":1.1e-6},{"s":"A","a":93,"v":1.18e-6},{"s":"A","a":94,"v":1.22e-6},
{"s":"B","a":6,"v":0.0},{"s":"B","a":7,"v":0.05e-6},{"s":"B","a":8,"v":0.1e-6},{"s":"B","a":9,"v":0.16e-6},{"s":"B","a":10,"v":0.22e-6},{"s":"B","a":11,"v":0.28e-6},{"s":"B","a":12,"v":0.35e-6},{"s":"B","a":13,"v":0.43e-6},{"s":"B","a":14,"v":0.53e-6},{"s":"B","a":15,"v":0.66e-6},{"s":"B","a":16,"v":0.85e-6},{"s":"B","a":17,"v":1.1e-6},{"s":"B","a":18,"v":1.45e-6},{"s":"B","a":19,"v":1.9e-6},{"s":"B","a":20,"v":2.4e-6},{"s":"B","a":21,"v":2.95e-6},{"s":"B","a":22,"v":3.4e-6},{"s":"B","a":23,"v":3.7e-6},{"s":"B","a":24,"v":3.95e-6},{"s":"B","a":25,"v":4.2e-6},{"s":"B","a":26,"v":4.45e-6},{"s":"B","a":27,"v":4.75e-6},{"s":"B","a":28,"v":5.05e-6},{"s":"B","a":29,"v":5.35e-6},{"s":"B","a":30,"v":5.7e-6},{"s":"B","a":31,"v":6.0e-6},{"s":"B","a":32,"v":6.2e-6},{"s":"B","a":33,"v":6.3e-6},{"s":"B","a":34,"v":6.45e-6},{"s":"B","a":35,"v":6.5e-6},{"s":"B","a":36,"v":6.45e-6},{"s":"B","a":37,"v":6.3e-6},{"s":"B","a":38,"v":6.1e-6},{"s":"B","a":39,"v":5.85e-6},{"s":"B","a":40,"v":5.55e-6},{"s":"B","a":41,"v":5.2e-6},{"s":"B","a":42,"v":4.85e-6},{"s":"B","a":43,"v":4.5e-6},{"s":"B","a":44,"v":4.2e-6},{"s":"B","a":45,"v":3.9e-6},{"s":"B","a":46,"v":3.6e-6},{"s":"B","a":47,"v":3.35e-6},{"s":"B","a":48,"v":3.15e-6},{"s":"B","a":49,"v":2.95e-6},{"s":"B","a":50,"v":2.78e-6},{"s":"B","a":51,"v":2.62e-6},{"s":"B","a":52,"v":2.47e-6},{"s":"B","a":53,"v":2.32e-6},{"s":"B","a":54,"v":2.15e-6},{"s":"B","a":55,"v":1.98e-6},{"s":"B","a":56,"v":1.85e-6},{"s":"B","a":57,"v":1.72e-6},{"s":"B","a":58,"v":1.59e-6},{"s":"B","a":59,"v":1.46e-6},{"s":"B","a":60,"v":1.32e-6},{"s":"B","a":61,"v":1.2e-6},{"s":"B","a":62,"v":1.08e-6},{"s":"B","a":63,"v":0.96e-6},{"s":"B","a":64,"v":0.85e-6},{"s":"B","a":65,"v":0.75e-6},{"s":"B","a":66,"v":0.66e-6},{"s":"B","a":67,"v":0.58e-6},{"s":"B","a":68,"v":0.5e-6},{"s":"B","a":69,"v":0.43e-6},{"s":"B","a":70,"v":0.37e-6},{"s":"B","a":71,"v":0.33e-6},{"s":"B","a":72,"v":0.31e-6},{"s":"B","a":73,"v":0.3e-6},{"s":"B","a":74,"v":0.3e-6},{"s":"B","a":75,"v":0.3e-6},{"s":"B","a":76,"v":0.31e-6},{"s":"B","a":77,"v":0.33e-6},{"s":"B","a":78,"v":0.36e-6},{"s":"B","a":79,"v":0.39e-6},{"s":"B","a":80,"v":0.42e-6},{"s":"B","a":81,"v":0.46e-6},{"s":"B","a":82,"v":0.51e-6},{"s":"B","a":83,"v":0.58e-6},{"s":"B","a":84,"v":0.68e-6},{"s":"B","a":85,"v":0.8e-6},{"s":"B","a":86,"v":0.95e-6},{"s":"B","a":87,"v":1.1e-6},{"s":"B","a":88,"v":1.25e-6},{"s":"B","a":89,"v":1.35e-6},{"s":"B","a":90,"v":1.42e-6},{"s":"B","a":91,"v":1.45e-6},
{"s":"C","a":10.5,"v":0.28e-6},{"s":"C","a":11.5,"v":0.35e-6},{"s":"C","a":12.5,"v":0.43e-6},{"s":"C","a":13.5,"v":0.53e-6},{"s":"C","a":14.5,"v":0.66e-6},{"s":"C","a":15.5,"v":0.82e-6},{"s":"C","a":16.5,"v":1.05e-6},{"s":"C","a":17.5,"v":1.4e-6},{"s":"C","a":18.5,"v":1.82e-6},{"s":"C","a":19.5,"v":2.3e-6},{"s":"C","a":20.5,"v":2.85e-6},{"s":"C","a":21.5,"v":3.35e-6},{"s":"C","a":22.5,"v":3.7e-6},{"s":"C","a":23.5,"v":3.9e-6},{"s":"C","a":24.5,"v":4.15e-6},{"s":"C","a":25.5,"v":4.55e-6},{"s":"C","a":26.5,"v":4.95e-6},{"s":"C","a":27.5,"v":5.4e-6},{"s":"C","a":28.5,"v":5.95e-6},{"s":"C","a":29.5,"v":6.4e-6},{"s":"C","a":30.5,"v":6.72e-6},{"s":"C","a":31.5,"v":6.85e-6},{"s":"C","a":32.5,"v":6.88e-6},{"s":"C","a":33.5,"v":6.78e-6},{"s":"C","a":34.5,"v":6.62e-6},{"s":"C","a":35.5,"v":6.5e-6},{"s":"C","a":36.5,"v":6.35e-6},{"s":"C","a":37.5,"v":6.15e-6},{"s":"C","a":38.5,"v":5.95e-6},{"s":"C","a":39.5,"v":5.68e-6},{"s":"C","a":40.5,"v":5.33e-6},{"s":"C","a":41.5,"v":4.98e-6},{"s":"C","a":42.5,"v":4.62e-6},{"s":"C","a":43.5,"v":4.3e-6},{"s":"C","a":44.5,"v":4.0e-6},{"s":"C","a":45.5,"v":3.7e-6},{"s":"C","a":46.5,"v":3.43e-6},{"s":"C","a":47.5,"v":3.2e-6},{"s":"C","a":48.5,"v":3.0e-6},{"s":"C","a":49.5,"v":2.83e-6},{"s":"C","a":50.5,"v":2.68e-6},{"s":"C","a":51.5,"v":2.52e-6},{"s":"C","a":52.5,"v":2.38e-6},{"s":"C","a":53.5,"v":2.21e-6},{"s":"C","a":54.5,"v":2.04e-6},{"s":"C","a":55.5,"v":1.88e-6},{"s":"C","a":56.5,"v":1.76e-6},{"s":"C","a":57.5,"v":1.63e-6},{"s":"C","a":58.5,"v":1.5e-6},{"s":"C","a":59.5,"v":1.37e-6},{"s":"C","a":60.5,"v":1.24e-6},{"s":"C","a":61.5,"v":1.11e-6},{"s":"C","a":62.5,"v":0.99e-6},{"s":"C","a":63.5,"v":0.87e-6},{"s":"C","a":64.5,"v":0.77e-6},{"s":"C","a":65.5,"v":0.67e-6},{"s":"C","a":66.5,"v":0.59e-6},{"s":"C","a":67.5,"v":0.51e-6},{"s":"C","a":68.5,"v":0.45e-6},{"s":"C","a":69.5,"v":0.39e-6},
{"s":"D","a":12.5,"v":0.39e-6},{"s":"D","a":13.5,"v":0.48e-6},{"s":"D","a":14.5,"v":0.6e-6},{"s":"D","a":15.5,"v":0.75e-6},{"s":"D","a":16.5,"v":0.97e-6},{"s":"D","a":17.5,"v":1.27e-6},{"s":"D","a":18.5,"v":1.67e-6},{"s":"D","a":19.5,"v":2.15e-6},{"s":"D","a":20.5,"v":2.68e-6},{"s":"D","a":21.5,"v":3.18e-6},{"s":"D","a":22.5,"v":3.55e-6},{"s":"D","a":23.5,"v":3.82e-6},{"s":"D","a":24.5,"v":4.08e-6},{"s":"D","a":25.5,"v":4.32e-6},{"s":"D","a":26.5,"v":4.6e-6},{"s":"D","a":27.5,"v":4.9e-6},{"s":"D","a":28.5,"v":5.2e-6},{"s":"D","a":29.5,"v":5.52e-6},{"s":"D","a":30.5,"v":5.85e-6},{"s":"D","a":31.5,"v":6.1e-6},{"s":"D","a":32.5,"v":6.25e-6},{"s":"D","a":33.5,"v":6.38e-6},{"s":"D","a":34.5,"v":6.48e-6},{"s":"D","a":35.5,"v":6.48e-6},{"s":"D","a":36.5,"v":6.38e-6},{"s":"D","a":37.5,"v":6.2e-6},{"s":"D","a":38.5,"v":5.98e-6},{"s":"D","a":39.5,"v":5.7e-6},{"s":"D","a":40.5,"v":5.38e-6},{"s":"D","a":41.5,"v":5.03e-6},{"s":"D","a":42.5,"v":4.68e-6},{"s":"D","a":43.5,"v":4.35e-6},{"s":"D","a":44.5,"v":4.05e-6},{"s":"D","a":45.5,"v":3.75e-6},{"s":"D","a":46.5,"v":3.48e-6},{"s":"D","a":47.5,"v":3.25e-6},{"s":"D","a":48.5,"v":3.05e-6}
]
},
"layer": [
{
  "data": {"name": "green"},
  "mark": {"type": "line", "color": "#00ff00", "strokeWidth": 1, "clip": true},
  "encoding": {
    "x": {"field": "v", "type": "quantitative", "scale": {"domain": [-1e-6, 8e-6], "nice": false, "zero": false},
      "axis": {"orient": "bottom", "values": [-1e-6, 0, 1e-6, 2e-6, 3e-6, 4e-6, 5e-6, 6e-6, 7e-6, 8e-6],
        "labelExpr": "datum.value == 0 ? '0e+00' : format(round(datum.value * 1e6), 'd') + 'e-06'",
        "labelAngle": -45, "labelAlign": "right", "labelBaseline": "middle", "labelFontSize": 11, "labelPadding": 19, "labelOffset": 6,
        "tickSize": -5, "title": "O3 VMR", "titleBaseline": "alphabetic", "titleY": 51, "titleX": 260.5}},
    "y": {"field": "a", "type": "quantitative", "scale": {"domain": [0, 100], "nice": false, "zero": false},
      "axis": {"orient": "left", "values": [0, 10, 20, 30, 40, 50, 60, 70, 80, 90, 100], "labelFontSize": 15.5, "labelPadding": 19,
        "tickSize": -5, "title": "Altitude (km)", "titleBaseline": "alphabetic", "titleAngle": -90, "titleX": -67.5, "titleY": 174}},
    "detail": {"field": "s", "type": "nominal"},
    "order": {"field": "a", "type": "quantitative"}
  }
},
{
  "data": {"name": "green"},
  "mark": {"type": "point", "shape": "M-1,0L1,0M0,-1L0,1", "size": 42, "stroke": "#00ff00", "strokeWidth": 1, "filled": false, "opacity": 1, "clip": true},
  "encoding": {
    "x": {"field": "v", "type": "quantitative", "axis": null},
    "y": {"field": "a", "type": "quantitative", "axis": null}
  }
},
{
  "data": {"name": "red"},
  "mark": {"type": "square", "color": "#ff0000", "size": 90, "opacity": 1, "strokeWidth": 0, "clip": true},
  "encoding": {
    "x": {"field": "v", "type": "quantitative", "axis": null},
    "y": {"field": "a", "type": "quantitative", "axis": null}
  }
},
{
  "data": {"name": "red"},
  "mark": {"type": "point", "opacity": 0},
  "encoding": {
    "x": {"field": "v", "type": "quantitative", "axis": {"orient": "top", "values": [-1e-6, 0, 1e-6, 2e-6, 3e-6, 4e-6, 5e-6, 6e-6, 7e-6, 8e-6], "labels": false, "tickSize": -5, "title": null}},
    "y": {"field": "a", "type": "quantitative", "axis": {"orient": "right", "values": [0, 10, 20, 30, 40, 50, 60, 70, 80, 90, 100], "labels": false, "tickSize": -5, "title": null}}
  }
}
],
"resolve": {"axis": {"x": "independent", "y": "independent"}}
}
